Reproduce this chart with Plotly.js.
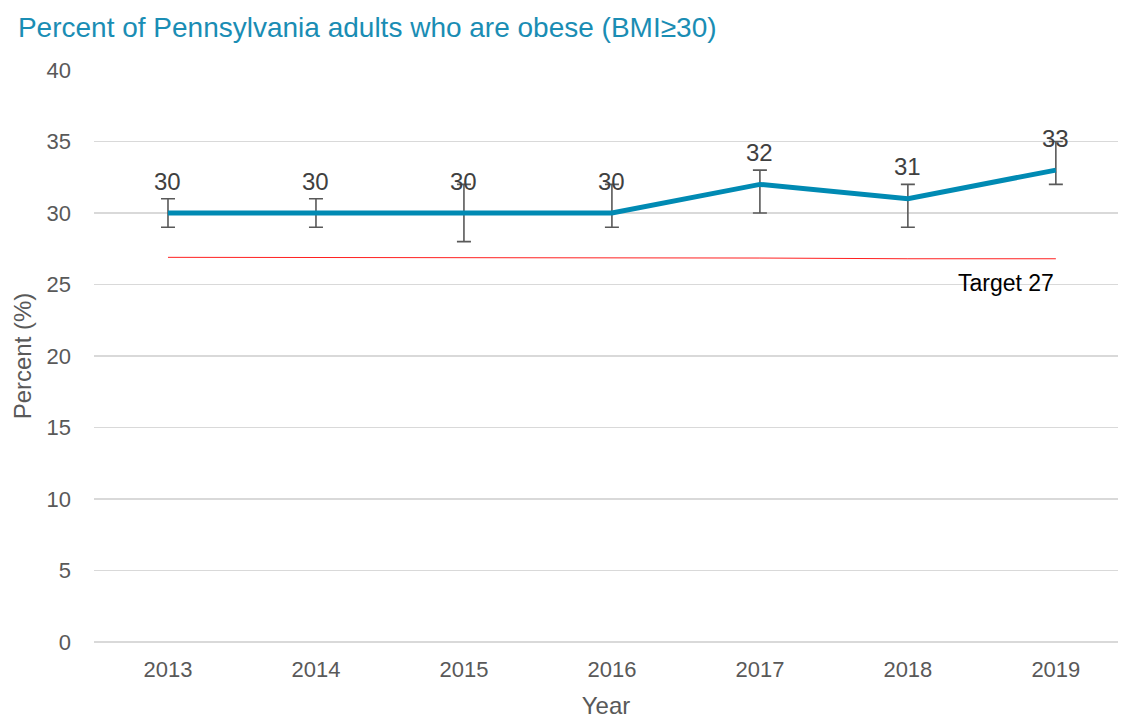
<!DOCTYPE html>
<html>
<head>
<meta charset="utf-8">
<script src="https://cdn.plot.ly/plotly-3.0.1.min.js"></script>
<style>html,body{margin:0;padding:0;background:#fff;}#chart{width:1121px;height:719px;}</style>
</head>
<body>
<div id="chart"></div>
<script>
const years = ['2013','2014','2015','2016','2017','2018','2019'];
const percent = [30, 30, 30, 30, 32, 31, 33];
const errUpper = [1, 1, 2, 2, 1, 1, 2];
const errLower = [1, 1, 2, 1, 2, 2, 1];
const target = [26.9, 26.9, 26.85, 26.85, 26.85, 26.8, 26.8];
const targetLabel = 'Target 27';

const FONT = 'Liberation Sans, Arial, sans-serif';

const traces = [
  {
    x: years, y: target, type: 'scatter', mode: 'lines',
    line: {color: '#ff2020', width: 1}, hoverinfo: 'skip', showlegend: false
  },
  {
    x: years, y: percent, type: 'scatter', mode: 'lines',
    line: {color: '#008ab3', width: 5},
    error_y: {type: 'data', symmetric: false, array: errUpper, arrayminus: errLower,
      color: '#595959', thickness: 1.6, width: 7},
    showlegend: false
  }
];

const annotations = years.map((yr, i) => ({
  xref: 'x', yref: 'y',
  x: i, y: percent[i], text: String(percent[i]), showarrow: false,
  yshift: 32, font: {family: FONT, size: 24, color: '#404040'}
}));
annotations.push({
  xref: 'x', yref: 'y',
  x: years.length - 1, y: target[target.length - 1], text: targetLabel, showarrow: false,
  xanchor: 'right', yshift: -24, font: {family: FONT, size: 23, color: '#000000'}
});

const layout = {
  width: 1121, height: 719,
  margin: {l: 94, r: 3, t: 70, b: 77},
  paper_bgcolor: '#ffffff', plot_bgcolor: '#ffffff',
  font: {family: FONT, color: '#595959'},
  title: {text: 'Percent of Pennsylvania adults who are obese (BMI≥30)',
    font: {family: FONT, size: 28, color: '#1a8db4'}, x: 0.016, xanchor: 'left',
    y: 0.962, yanchor: 'middle'},
  xaxis: {
    type: 'category', range: [-0.5, 6.42], showgrid: false, zeroline: false, showline: false,
    ticks: '', ticklabelstandoff: 12, tickfont: {size: 22, color: '#595959'},
    title: {text: 'Year', font: {size: 24, color: '#595959'}, standoff: 16}
  },
  yaxis: {
    range: [0, 40], dtick: 5, showgrid: true, gridcolor: '#d9d9d9', gridwidth: 1.5,
    zeroline: true, zerolinecolor: '#d9d9d9', zerolinewidth: 1.5, showline: false,
    ticks: '', ticklabelstandoff: 22, tickfont: {size: 22, color: '#595959'},
    title: {text: 'Percent (%)', font: {size: 24, color: '#595959'}, standoff: 8}
  },
  annotations: annotations
};

Plotly.newPlot('chart', traces, layout, {displayModeBar: false, staticPlot: true});
</script>
</body>
</html>
